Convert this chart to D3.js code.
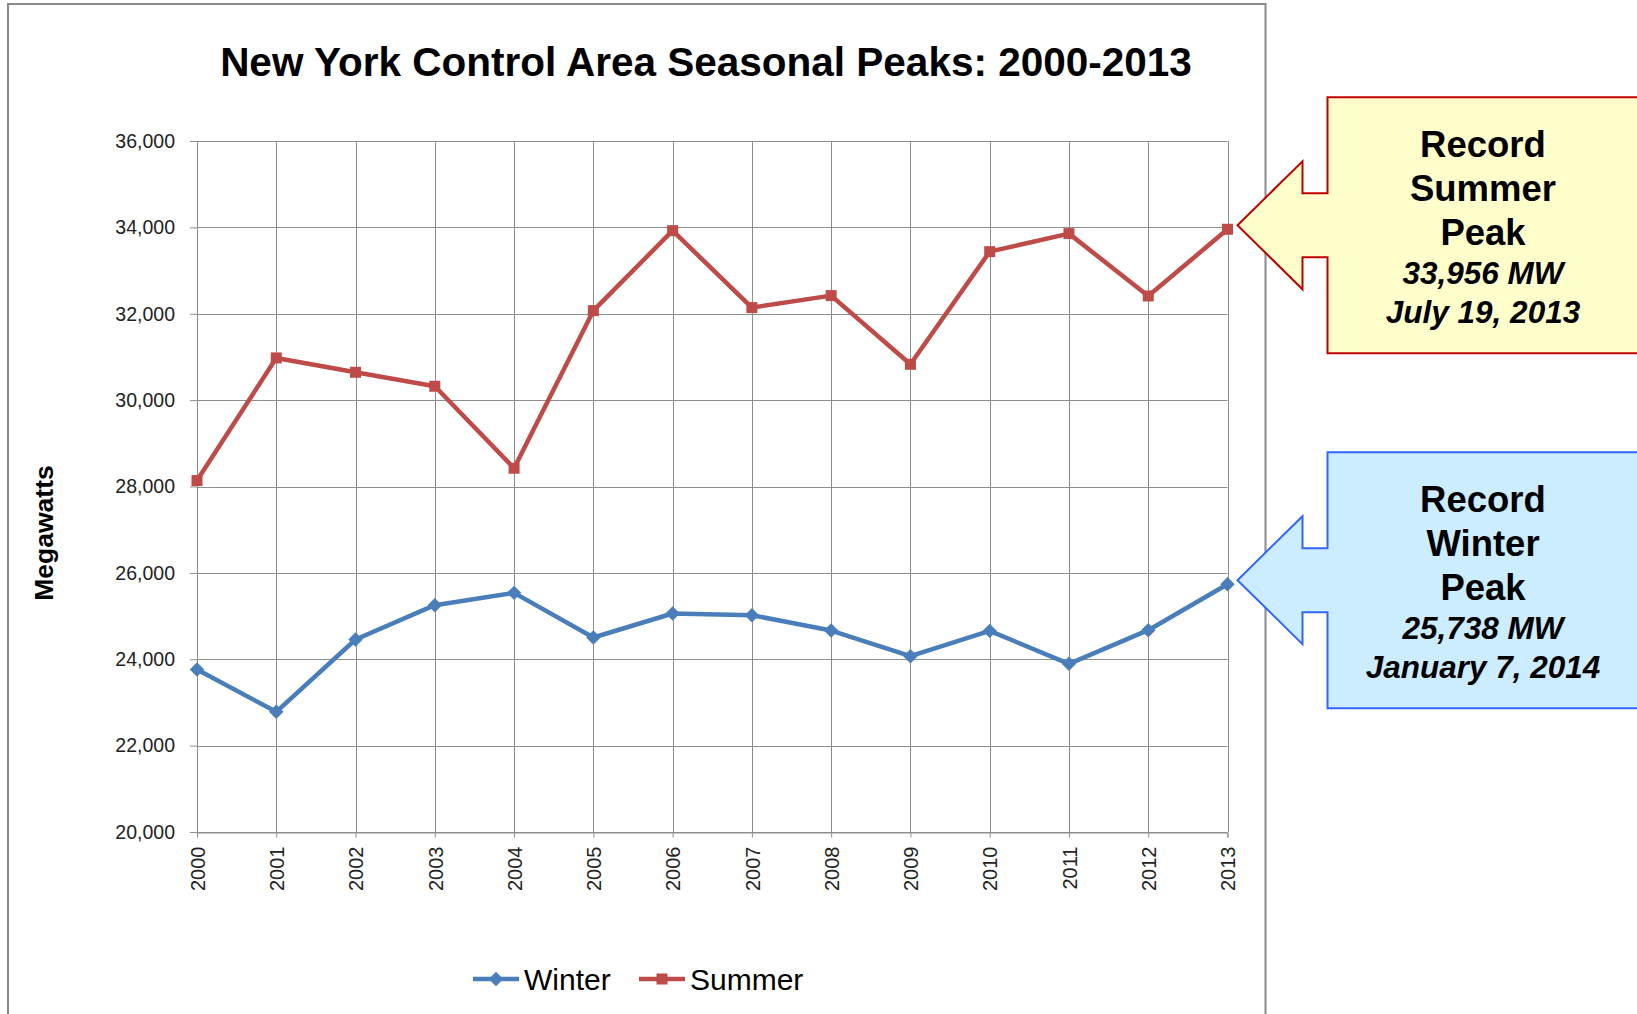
<!DOCTYPE html>
<html>
<head>
<meta charset="utf-8">
<script src="https://cdn.jsdelivr.net/npm/d3@7"></script>
<style>
    body { margin: 0; background: #fff; }
    svg { display: block; font-family: "Liberation Sans", Arial, sans-serif; }
</style>
</head>
<body>
<svg width="1637" height="1014"></svg>
<script>
// Data
const years = [2000, 2001, 2002, 2003, 2004, 2005, 2006, 2007, 2008, 2009, 2010, 2011, 2012, 2013];
const winterPeaks = [23762, 22782, 24457, 25252, 25537, 24503, 25059, 25020, 24665, 24071, 24657, 23894, 24673, 25738];
const summerPeaks = [28137, 30977, 30645, 30321, 28423, 32072, 33924, 32142, 32420, 30830, 33438, 33855, 32412, 33956];
const yTicks = [20000, 22000, 24000, 26000, 28000, 30000, 32000, 34000, 36000];
const seriesNames = ['Winter', 'Summer'];
const recordSummer = { value: 33956, label: ['Record', 'Summer', 'Peak'], detail: ['33,956 MW', 'July 19, 2013'] };
const recordWinter = { value: 25738, label: ['Record', 'Winter', 'Peak'], detail: ['25,738 MW', 'January 7, 2014'] };

function drawChart() {
    const svg = d3.select('svg');
    svg.selectAll('*').remove();

    const plot = { left: 197, right: 1227.5, top: 141, bottom: 832 };
    const colors = { Winter: '#4A7EBB', Summer: '#BE4B48' };
    const gridColor = '#8e8e8e';

    // outer chart frame
    svg.append('path')
        .attr('d', 'M8,1020 V4 H1265.5 V1020')
        .attr('fill', 'none')
        .attr('stroke', '#8a8a8a')
        .attr('stroke-width', 2);

    const xScale = d3.scalePoint()
        .domain(years)
        .range([plot.left, plot.right]);
    const yScale = d3.scaleLinear()
        .domain([d3.min(yTicks), d3.max(yTicks)])
        .range([plot.bottom, plot.top]);

    // Title
    svg.append('text')
        .text('New York Control Area Seasonal Peaks: 2000-2013')
        .attr('x', 706)
        .attr('y', 75.5)
        .style('text-anchor', 'middle')
        .style('font-size', '40.5px')
        .style('font-weight', 'bold');

    // Gridlines
    svg.append('g')
        .selectAll('line')
        .data(yTicks)
        .join('line')
        .attr('x1', plot.left)
        .attr('x2', plot.right)
        .attr('y1', d => Math.round(yScale(d)) + 0.5)
        .attr('y2', d => Math.round(yScale(d)) + 0.5)
        .attr('stroke', gridColor);
    svg.append('g')
        .selectAll('line')
        .data(years)
        .join('line')
        .attr('x1', d => Math.round(xScale(d)) + 0.5)
        .attr('x2', d => Math.round(xScale(d)) + 0.5)
        .attr('y1', plot.top)
        .attr('y2', plot.bottom)
        .attr('stroke', gridColor);

    // Axes
    const yAxis = d3.axisLeft(yScale)
        .tickValues(yTicks)
        .tickFormat(d3.format(','))
        .tickSize(7)
        .tickPadding(15);
    const gy = svg.append('g')
        .attr('transform', `translate(${plot.left}, 0)`)
        .call(yAxis);
    gy.select('.domain').attr('stroke', gridColor);
    gy.selectAll('.tick line').attr('stroke', gridColor);
    gy.selectAll('.tick text')
        .style('font-family', '"Liberation Sans", Arial, sans-serif')
        .style('font-size', '19.5px')
        .attr('fill', '#222');

    const xAxis = d3.axisBottom(xScale).tickSize(5);
    const gx = svg.append('g')
        .attr('transform', `translate(0, ${Math.round(plot.bottom) + 0.5})`)
        .call(xAxis);
    gx.select('.domain').attr('stroke', gridColor);
    gx.selectAll('.tick line').attr('stroke', gridColor);
    gx.selectAll('.tick text')
        .attr('transform', 'rotate(-90)')
        .attr('x', -14)
        .attr('y', 0)
        .attr('dy', '0.36em')
        .style('text-anchor', 'end')
        .style('font-family', '"Liberation Sans", Arial, sans-serif')
        .style('font-size', '20px')
        .attr('fill', '#222');

    // Y label
    svg.append('text')
        .text('Megawatts')
        .attr('transform', 'translate(53, 533) rotate(-90)')
        .style('text-anchor', 'middle')
        .style('font-size', '26.5px')
        .style('font-weight', 'bold');

    // Lines
    const series = [
        { name: 'Winter', values: winterPeaks },
        { name: 'Summer', values: summerPeaks }
    ];
    const line = d3.line()
        .x((d, i) => xScale(years[i]))
        .y(d => yScale(d));

    const squareSym = d3.symbol(d3.symbolSquare, 121);
    const diamondSym = d3.symbol(d3.symbolSquare, 105);
    const markerPath = name => name === 'Winter' ? diamondSym() : squareSym();
    const markerRot = name => name === 'Winter' ? ' rotate(45)' : '';

    series.forEach(s => {
        svg.append('path')
            .datum(s.values)
            .attr('d', line)
            .attr('fill', 'none')
            .attr('stroke', colors[s.name])
            .attr('stroke-width', 4.5)
            .attr('stroke-linejoin', 'round');
        svg.append('g')
            .selectAll('path')
            .data(s.values)
            .join('path')
            .attr('d', markerPath(s.name))
            .attr('transform', (d, i) => `translate(${xScale(years[i])}, ${yScale(d)})${markerRot(s.name)}`)
            .attr('fill', colors[s.name]);
    });

    // Legend
    const legendX = { Winter: 473, Summer: 639 };
    const legendY = 979;
    seriesNames.forEach(name => {
        const g = svg.append('g').attr('transform', `translate(${legendX[name]}, ${legendY})`);
        g.append('line')
            .attr('x1', 0).attr('x2', 46)
            .attr('stroke', colors[name])
            .attr('stroke-width', 4.5);
        g.append('path')
            .attr('d', markerPath(name))
            .attr('transform', `translate(23, 0)${markerRot(name)}`)
            .attr('fill', colors[name]);
        g.append('text')
            .text(name)
            .attr('x', 51)
            .attr('y', 10.5)
            .style('font-size', '30px');
    });

    // Record callouts
    function callout(rec, fill, stroke) {
        const tipX = xScale(2013) + 10;
        const tipY = yScale(rec.value) - 4;
        const boxL = tipX + 90, boxR = 1660;
        const pts = [
            [tipX, tipY],
            [tipX + 65, tipY - 64],
            [tipX + 65, tipY - 32],
            [boxL, tipY - 32],
            [boxL, tipY - 128],
            [boxR, tipY - 128],
            [boxR, tipY + 128],
            [boxL, tipY + 128],
            [boxL, tipY + 32],
            [tipX + 65, tipY + 32],
            [tipX + 65, tipY + 64]
        ];
        svg.append('path')
            .attr('d', d3.line()(pts) + 'Z')
            .attr('fill', fill)
            .attr('stroke', stroke)
            .attr('stroke-width', 2);
        const cx = 1483;
        const bigY = [-68.5, -24.5, 19.5];
        rec.label.forEach((t, i) => {
            svg.append('text')
                .text(t)
                .attr('x', cx)
                .attr('y', tipY + bigY[i])
                .style('text-anchor', 'middle')
                .style('font-size', '36.5px')
                .style('font-weight', 'bold');
        });
        const smallY = [59, 97.5];
        rec.detail.forEach((t, i) => {
            svg.append('text')
                .text(t)
                .attr('x', cx)
                .attr('y', tipY + smallY[i])
                .style('text-anchor', 'middle')
                .style('font-size', '31.5px')
                .style('font-weight', 'bold')
                .style('font-style', 'italic');
        });
    }
    callout(recordSummer, '#FFFFCC', '#C00000');
    callout(recordWinter, '#CCECFF', '#3366FF');
}

window.addEventListener('load', drawChart);
</script>
</body>
</html>
